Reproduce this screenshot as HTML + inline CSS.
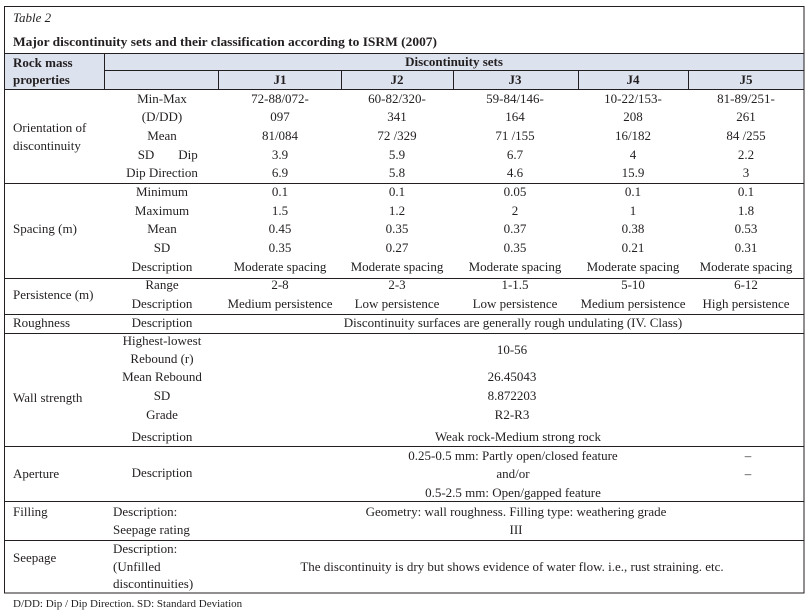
<!DOCTYPE html>
<html><head><meta charset="utf-8"><style>
html,body{margin:0;padding:0;background:#fff;}
svg{display:block;}
text{font-family:"Liberation Serif",serif;font-size:13px;fill:#231f20;}
.b{font-weight:bold;}
.c{text-anchor:middle;}
</style></head><body>
<svg width="812" height="616" viewBox="0 0 812 616" xmlns="http://www.w3.org/2000/svg">
<rect x="0" y="0" width="812" height="616" fill="#fff"/>
<rect x="4.5" y="53" width="799" height="36" fill="#dde3ee"/>
<g stroke="#231f20" stroke-width="1" fill="none">
<rect x="4.5" y="6.5" width="799.5" height="586.5"/>
<line x1="4.5" y1="53.5" x2="804" y2="53.5"/>
<line x1="104.5" y1="70.5" x2="804" y2="70.5"/>
<line x1="4.5" y1="89.5" x2="804" y2="89.5"/>
<line x1="104.5" y1="53.5" x2="104.5" y2="89.5"/>
<line x1="218.5" y1="70.5" x2="218.5" y2="89.5"/>
<line x1="341.5" y1="70.5" x2="341.5" y2="89.5"/>
<line x1="453.5" y1="70.5" x2="453.5" y2="89.5"/>
<line x1="578.5" y1="70.5" x2="578.5" y2="89.5"/>
<line x1="688.5" y1="70.5" x2="688.5" y2="89.5"/>
<line x1="4.5" y1="183.5" x2="804" y2="183.5"/>
<line x1="4.5" y1="278.5" x2="804" y2="278.5"/>
<line x1="4.5" y1="314.5" x2="804" y2="314.5"/>
<line x1="4.5" y1="333.5" x2="804" y2="333.5"/>
<line x1="4.5" y1="446.5" x2="804" y2="446.5"/>
<line x1="4.5" y1="501.5" x2="804" y2="501.5"/>
<line x1="4.5" y1="540.5" x2="804" y2="540.5"/>
</g>
<text x="13" y="22" style="font-style:italic;font-size:13px">Table 2</text>
<text x="13" y="46" class="b" style="font-size:13px" textLength="424" lengthAdjust="spacingAndGlyphs">Major discontinuity sets and their classification according to ISRM (2007)</text>
<text x="13" y="67" class="b">Rock mass</text>
<text x="13" y="84" class="b">properties</text>
<text x="454" y="66" class="b c">Discontinuity sets</text>
<text x="280" y="84" class="b c">J1</text>
<text x="397" y="84" class="b c">J2</text>
<text x="515" y="84" class="b c">J3</text>
<text x="633" y="84" class="b c">J4</text>
<text x="746" y="84" class="b c">J5</text>

<text x="13" y="132">Orientation of</text>
<text x="13" y="150">discontinuity</text>
<text x="162" y="103" class="c">Min-Max</text>
<text x="162" y="121" class="c">(D/DD)</text>
<text x="162" y="140" class="c">Mean</text>
<text x="146" y="159" class="c">SD</text><text x="188" y="159" class="c">Dip</text>
<text x="162" y="177" class="c">Dip Direction</text>
<text x="280" y="103" class="c">72-88/072-</text><text x="397" y="103" class="c">60-82/320-</text><text x="515" y="103" class="c">59-84/146-</text><text x="633" y="103" class="c">10-22/153-</text><text x="746" y="103" class="c">81-89/251-</text>
<text x="280" y="121" class="c">097</text><text x="397" y="121" class="c">341</text><text x="515" y="121" class="c">164</text><text x="633" y="121" class="c">208</text><text x="746" y="121" class="c">261</text>
<text x="280" y="140" class="c">81/084</text><text x="397" y="140" class="c">72 /329</text><text x="515" y="140" class="c">71 /155</text><text x="633" y="140" class="c">16/182</text><text x="746" y="140" class="c">84 /255</text>
<text x="280" y="159" class="c">3.9</text><text x="397" y="159" class="c">5.9</text><text x="515" y="159" class="c">6.7</text><text x="633" y="159" class="c">4</text><text x="746" y="159" class="c">2.2</text>
<text x="280" y="177" class="c">6.9</text><text x="397" y="177" class="c">5.8</text><text x="515" y="177" class="c">4.6</text><text x="633" y="177" class="c">15.9</text><text x="746" y="177" class="c">3</text>

<text x="13" y="233">Spacing (m)</text>
<text x="162" y="196" class="c">Minimum</text>
<text x="162" y="215" class="c">Maximum</text>
<text x="162" y="233" class="c">Mean</text>
<text x="162" y="252" class="c">SD</text>
<text x="162" y="271" class="c">Description</text>
<text x="280" y="196" class="c">0.1</text><text x="397" y="196" class="c">0.1</text><text x="515" y="196" class="c">0.05</text><text x="633" y="196" class="c">0.1</text><text x="746" y="196" class="c">0.1</text>
<text x="280" y="215" class="c">1.5</text><text x="397" y="215" class="c">1.2</text><text x="515" y="215" class="c">2</text><text x="633" y="215" class="c">1</text><text x="746" y="215" class="c">1.8</text>
<text x="280" y="233" class="c">0.45</text><text x="397" y="233" class="c">0.35</text><text x="515" y="233" class="c">0.37</text><text x="633" y="233" class="c">0.38</text><text x="746" y="233" class="c">0.53</text>
<text x="280" y="252" class="c">0.35</text><text x="397" y="252" class="c">0.27</text><text x="515" y="252" class="c">0.35</text><text x="633" y="252" class="c">0.21</text><text x="746" y="252" class="c">0.31</text>
<text x="280" y="271" class="c">Moderate spacing</text><text x="397" y="271" class="c">Moderate spacing</text><text x="515" y="271" class="c">Moderate spacing</text><text x="633" y="271" class="c">Moderate spacing</text><text x="746" y="271" class="c">Moderate spacing</text>

<text x="13" y="299">Persistence (m)</text>
<text x="162" y="289" class="c">Range</text>
<text x="162" y="308" class="c">Description</text>
<text x="280" y="289" class="c">2-8</text><text x="397" y="289" class="c">2-3</text><text x="515" y="289" class="c">1-1.5</text><text x="633" y="289" class="c">5-10</text><text x="746" y="289" class="c">6-12</text>
<text x="280" y="308" class="c">Medium persistence</text><text x="397" y="308" class="c">Low persistence</text><text x="515" y="308" class="c">Low persistence</text><text x="633" y="308" class="c">Medium persistence</text><text x="746" y="308" class="c">High persistence</text>

<text x="13" y="327">Roughness</text>
<text x="162" y="327" class="c">Description</text>
<text x="513" y="327" class="c">Discontinuity surfaces are generally rough undulating (IV. Class)</text>

<text x="13" y="402">Wall strength</text>
<text x="162" y="345" class="c">Highest-lowest</text>
<text x="162" y="363" class="c">Rebound (r)</text>
<text x="162" y="381" class="c">Mean Rebound</text>
<text x="162" y="400" class="c">SD</text>
<text x="162" y="419" class="c">Grade</text>
<text x="162" y="441" class="c">Description</text>
<text x="512" y="354" class="c">10-56</text>
<text x="512" y="381" class="c">26.45043</text>
<text x="512" y="400" class="c">8.872203</text>
<text x="512" y="419" class="c">R2-R3</text>
<text x="518" y="441" class="c">Weak rock-Medium strong rock</text>

<text x="13" y="478">Aperture</text>
<text x="162" y="477" class="c">Description</text>
<text x="513" y="460" class="c">0.25-0.5 mm: Partly open/closed feature</text>
<text x="513" y="478" class="c">and/or</text>
<text x="513" y="497" class="c">0.5-2.5 mm: Open/gapped feature</text>
<text x="748" y="460" class="c">–</text>
<text x="748" y="478" class="c">–</text>

<text x="13" y="516">Filling</text>
<text x="113" y="516">Description:</text>
<text x="113" y="534">Seepage rating</text>
<text x="516" y="516" class="c">Geometry: wall roughness. Filling type: weathering grade</text>
<text x="516" y="534" class="c">III</text>

<text x="13" y="562">Seepage</text>
<text x="113" y="553">Description:</text>
<text x="113" y="571">(Unfilled</text>
<text x="113" y="588">discontinuities)</text>
<text x="512" y="571" class="c">The discontinuity is dry but shows evidence of water flow. i.e., rust straining. etc.</text>

<text x="13" y="607" style="font-size:11px">D/DD: Dip / Dip Direction. SD: Standard Deviation</text>
</svg>
</body></html>
